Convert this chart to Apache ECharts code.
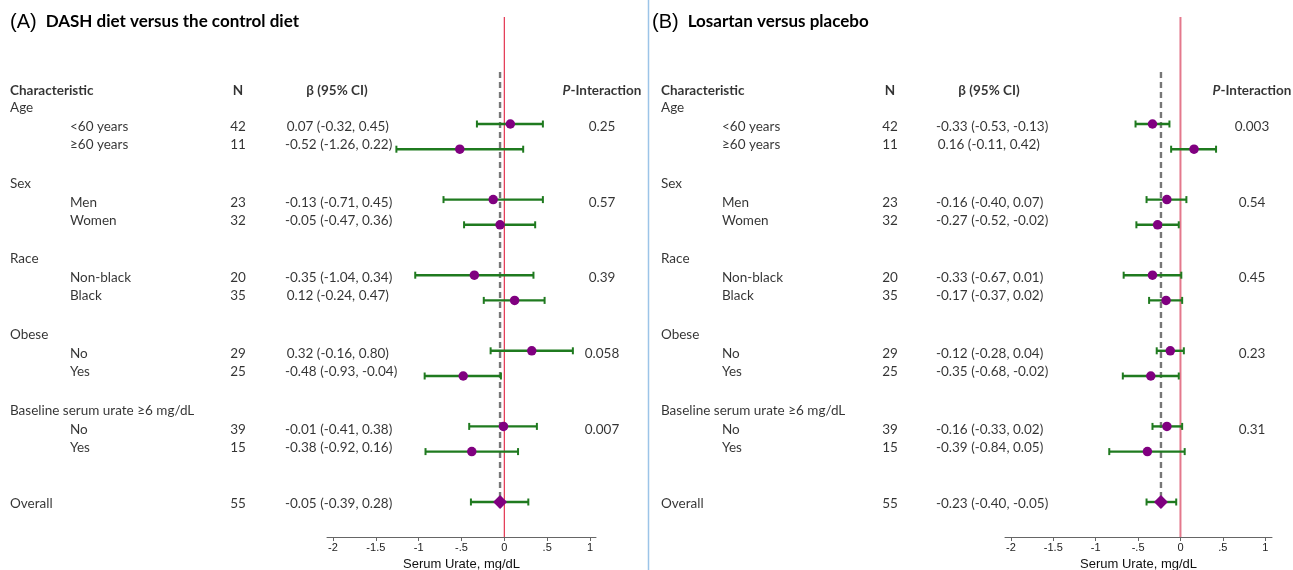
<!DOCTYPE html>
<html><head><meta charset="utf-8">
<script src="https://cdn.jsdelivr.net/npm/echarts@6/dist/echarts.min.js"></script>
<style>html,body{margin:0;padding:0;background:#fff}#c{width:1293px;height:570px}</style>
</head><body><div id="c"></div>
<script>
// ---------------- data ----------------
const groups = ['Age', 'Sex', 'Race', 'Obese', 'Baseline serum urate \u22656 mg/dL'];
const subgroups = [['<60 years', '\u226560 years'], ['Men', 'Women'], ['Non-black', 'Black'], ['No', 'Yes'], ['No', 'Yes']];

const titleA = 'DASH diet versus the control diet';
const nA    = [42, 11, 23, 32, 20, 35, 29, 25, 39, 15];
const betaA = [0.07, -0.52, -0.13, -0.05, -0.35, 0.12, 0.32, -0.48, -0.01, -0.38];
const loA   = [-0.32, -1.26, -0.71, -0.47, -1.04, -0.24, -0.16, -0.93, -0.41, -0.92];
const hiA   = [0.45, 0.22, 0.45, 0.36, 0.34, 0.47, 0.80, -0.04, 0.38, 0.16];
const pA    = ['0.25', '0.57', '0.39', '0.058', '0.007'];
const overallA = {n: 55, beta: -0.05, lo: -0.39, hi: 0.28};

const titleB = 'Losartan versus placebo';
const nB    = [42, 11, 23, 32, 20, 35, 29, 25, 39, 15];
const betaB = [-0.33, 0.16, -0.16, -0.27, -0.33, -0.17, -0.12, -0.35, -0.16, -0.39];
const loB   = [-0.53, -0.11, -0.40, -0.52, -0.67, -0.37, -0.28, -0.68, -0.33, -0.84];
const hiB   = [-0.13, 0.42, 0.07, -0.02, 0.01, 0.02, 0.04, -0.02, 0.02, 0.05];
const pB    = ['0.003', '0.54', '0.45', '0.23', '0.31'];
const overallB = {n: 55, beta: -0.23, lo: -0.40, hi: -0.05};

const tickValues = [-2, -1.5, -1, -0.5, 0, 0.5, 1];
const tickLabels = ['-2', '-1.5', '-1', '-.5', '0', '.5', '1'];
const axisTitle = 'Serum Urate, mg/dL';
const headers = ['Characteristic', 'N', '\u03b2 (95% CI)'];

// ---------------- layout ----------------
const W = 1293, H = 570;
const Y_MIN = -4.3, Y_MAX = 16.39, STEP = 25.2, ROW0 = 124;
const gridTop = ROW0 + Y_MIN * STEP;
const gridBottom = H - (ROW0 + Y_MAX * STEP);
const TXT = 'Lato, "Open Sans", sans-serif';
const AX = '"Liberation Sans", Arial, sans-serif';
const TOFF = 0.08; // text baseline nudge (rows)

const panels = [
  {label: '(A)', title: titleA, n: nA, beta: betaA, lo: loA, hi: hiA, p: pA, ov: overallA,
   col: {chr: 10, sub: 70, n: 238, ci: 285, ciH: 337, p: 602}, plotLeft: 327, plotWidth: 269, xMax: 1.07,
   red: '#e3334f', redW: 1.2, titleX: 10},
  {label: '(B)', title: titleB, n: nB, beta: betaB, lo: loB, hi: hiB, p: pB, ov: overallB,
   col: {chr: 661, sub: 722, n: 890, ci: 936, ciH: 989, p: 1252}, plotLeft: 1005, plotWidth: 267, xMax: 1.08,
   red: '#e4788c', redW: 2, titleX: 652}
];

function fmt(v) { return v.toFixed(2); }
function ciText(b, l, h) { return (b >= 0 ? '\u2009' : '') + fmt(b) + ' (' + fmt(l) + ', ' + fmt(h) + ')'; }

const grids = [{left: 0, right: 0, top: gridTop, bottom: gridBottom, outerBoundsMode: 'none', containLabel: false}];
const xAxes = [{gridIndex: 0, type: 'value', min: 0, max: W, show: false}];
const yAxes = [{gridIndex: 0, type: 'value', min: Y_MIN, max: Y_MAX, inverse: true, show: false}];
const series = [];
const titles = [];

panels.forEach((P, pi) => {
  const gi = pi + 1;
  grids.push({left: P.plotLeft, width: P.plotWidth, top: gridTop, bottom: gridBottom, outerBoundsMode: 'none', containLabel: false});
  xAxes.push({
    gridIndex: gi, type: 'value', min: -2.07, max: P.xMax, position: 'bottom',
    axisLine: {show: true, onZero: false, lineStyle: {color: '#666', width: 1}},
    axisTick: {show: true, customValues: tickValues, length: 4, lineStyle: {color: '#666'}},
    axisLabel: {customValues: tickValues, fontFamily: AX, fontSize: 11, color: '#222', margin: 5,
      formatter: v => { const i = tickValues.findIndex(t => Math.abs(t - v) < 1e-6); return i >= 0 ? tickLabels[i] : ''; }},
    splitLine: {show: false},
    name: axisTitle, nameLocation: 'middle', nameGap: 18,
    nameTextStyle: {fontFamily: AX, fontSize: 13, color: '#111'}
  });
  yAxes.push({gridIndex: gi, type: 'value', min: Y_MIN, max: Y_MAX, inverse: true, show: false, axisLine: {onZero: false}});

  titles.push({
    left: P.titleX, top: 12, padding: 0,
    text: '{a|' + P.label + '} {b|' + P.title + '}',
    textStyle: {fontWeight: 'normal', rich: {
      a: {fontFamily: AX, fontSize: 20, fontWeight: 'normal', color: '#000'},
      b: {fontFamily: TXT, fontSize: 17, fontWeight: 'bold', color: '#000', padding: [0, 0, 0, 4]}
    }}
  });

  // ---- table text ----
  const items = [];
  const add = (x, y, text, opt) => items.push(Object.assign({name: text, value: [x, y + TOFF]}, opt ? {label: opt} : {}));
  const hy = -1.4;
  add(P.col.chr, hy, headers[0], {fontWeight: 'bold'});
  add(P.col.n, hy, headers[1], {fontWeight: 'bold', align: 'center'});
  add(P.col.ciH, hy, headers[2], {fontWeight: 'bold', align: 'center'});
  add(P.col.p, hy, '{i|P}{b|-Interaction}', {align: 'center'});
  groups.forEach((g, k) => {
    add(P.col.chr, 3 * k - 0.72, g);
    subgroups[k].forEach((s, j) => {
      const idx = 2 * k + j;
      const y = 3 * k + 0.03 + 0.72 * j;
      add(P.col.sub, y, s);
      add(P.col.n, y, String(P.n[idx]), {align: 'center'});
      add(P.col.ci, y, ciText(P.beta[idx], P.lo[idx], P.hi[idx]));
    });
    add(P.col.p, 3 * k + 0.03, P.p[k], {align: 'center'});
  });
  add(P.col.chr, 15, 'Overall');
  add(P.col.n, 15, String(P.ov.n), {align: 'center'});
  add(P.col.ci, 15, ciText(P.ov.beta, P.ov.lo, P.ov.hi));

  series.push({
    type: 'scatter', xAxisIndex: 0, yAxisIndex: 0, symbolSize: 0, silent: true, data: items,
    label: {show: true, position: 'inside', formatter: '{b}', align: 'left', verticalAlign: 'middle',
      fontFamily: TXT, fontSize: 13.5, color: '#000',
      rich: {i: {fontFamily: TXT, fontSize: 13.5, fontStyle: 'italic', fontWeight: 'bold', color: '#000'},
             b: {fontFamily: TXT, fontSize: 13.5, fontWeight: 'bold', color: '#000'}}}
  });

  // ---- reference lines ----
  series.push({type: 'line', xAxisIndex: gi, yAxisIndex: gi, symbol: 'none', silent: true, clip: false,
    lineStyle: {color: P.red, width: P.redW}, data: [[0, -4.25], [0, Y_MAX]], z: 1});
  series.push({type: 'line', xAxisIndex: gi, yAxisIndex: gi, symbol: 'none', silent: true, clip: false,
    lineStyle: {color: '#777', width: 2.4, type: [6, 4]}, data: [[P.ov.beta, -2.06], [P.ov.beta, 15.4]], z: 2});

  // ---- error bars ----
  const ebData = [];
  P.beta.forEach((b, idx) => ebData.push([P.lo[idx], P.hi[idx], 3 * Math.floor(idx / 2) + (idx % 2)]));
  ebData.push([P.ov.lo, P.ov.hi, 15]);
  series.push({
    type: 'custom', xAxisIndex: gi, yAxisIndex: gi, silent: true, z: 3,
    encode: {x: [0, 1], y: 2}, data: ebData,
    renderItem: (params, api) => {
      const a = api.coord([api.value(0), api.value(2)]);
      const b = api.coord([api.value(1), api.value(2)]);
      const st = {stroke: '#1f7a1f', lineWidth: 2.4};
      return {type: 'group', children: [
        {type: 'line', shape: {x1: a[0], y1: a[1], x2: b[0], y2: b[1]}, style: st},
        {type: 'line', shape: {x1: a[0], y1: a[1] - 3.5, x2: a[0], y2: a[1] + 3.5}, style: {stroke: '#1f7a1f', lineWidth: 2}},
        {type: 'line', shape: {x1: b[0], y1: b[1] - 3.5, x2: b[0], y2: b[1] + 3.5}, style: {stroke: '#1f7a1f', lineWidth: 2}}
      ]};
    }
  });

  // ---- point estimates ----
  series.push({type: 'scatter', xAxisIndex: gi, yAxisIndex: gi, silent: true, z: 4, symbol: 'circle', symbolSize: 9.5,
    itemStyle: {color: '#800080', opacity: 1},
    data: P.beta.map((b, idx) => [b, 3 * Math.floor(idx / 2) + (idx % 2)])});
  series.push({type: 'scatter', xAxisIndex: gi, yAxisIndex: gi, silent: true, z: 4, symbol: 'diamond', symbolSize: [14, 14],
    itemStyle: {color: '#800080', opacity: 1}, data: [[P.ov.beta, 15]]});
});

const chart = echarts.init(document.getElementById('c'), null, {renderer: 'canvas'});
chart.setOption({
  backgroundColor: '#fff', animation: false,
  title: titles, grid: grids, xAxis: xAxes, yAxis: yAxes, series: series,
  graphic: [{type: 'line', shape: {x1: 648.5, y1: 0, x2: 648.5, y2: H}, style: {stroke: '#9cc4e8', lineWidth: 1.5}, silent: true}]
});
</script></body></html>
